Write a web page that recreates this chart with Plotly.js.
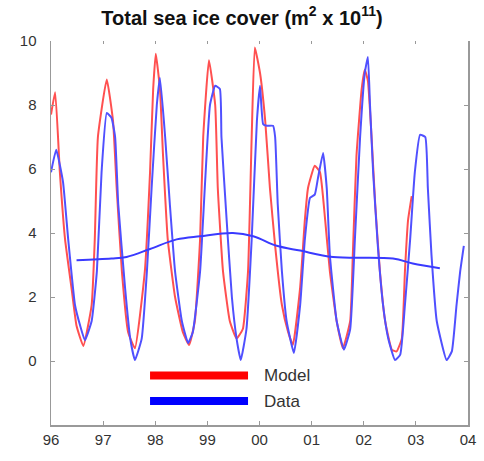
<!DOCTYPE html>
<html>
<head>
<meta charset="utf-8">
<script src="https://cdn.plot.ly/plotly-3.0.1.min.js"></script>
<style>html,body{margin:0;padding:0;background:#fff;}#chart{width:484px;height:461px;}</style>
</head>
<body>
<div id="chart"></div>
<script>
// Model (red) – total sea ice cover, m^2 x 10^11
const modelX = [1996.00,1996.08,1996.17,1996.27,1996.40,1996.49,1996.62,1996.78,1996.84,1996.90,
  1997.07,1997.19,1997.26,1997.36,1997.48,1997.61,1997.80,1997.90,1997.96,
  1998.01,1998.09,1998.15,1998.24,1998.38,1998.53,1998.65,1998.76,1998.86,1998.92,
  1999.03,1999.15,1999.20,1999.30,1999.43,1999.56,1999.68,1999.78,1999.85,1999.91,
  2000.01,2000.11,2000.20,2000.30,2000.43,2000.55,2000.64,2000.78,2000.87,2000.93,
  2001.06,2001.16,2001.26,2001.35,2001.48,2001.60,2001.74,2001.79,2001.86,2001.96,
  2002.02,2002.08,2002.15,2002.22,2002.31,2002.41,2002.54,2002.63,2002.73,2002.79,2002.85,2002.92];
const modelY = [7.7,8.4,5.9,3.8,2.2,1.1,0.47,1.75,3.8,7.0,
  8.8,7.5,5.4,2.8,0.9,0.4,2.8,5.9,8.5,
  9.6,8.5,6.4,3.8,2.0,0.9,0.5,1.25,3.8,7.0,
  9.4,8.0,5.4,2.8,1.25,0.7,1.0,2.8,7.0,9.8,
  9.0,7.5,5.4,3.6,1.75,0.9,0.5,2.3,4.4,5.4,
  6.1,5.9,4.4,2.8,1.25,0.4,1.25,3.3,6.4,8.5,
  9.1,8.75,7.0,4.9,2.8,1.25,0.35,0.3,0.7,2.8,4.4,5.15];

// Data (blue) – observed total sea ice cover
const dataX = [1996.00,1996.10,1996.23,1996.33,1996.46,1996.56,1996.65,1996.78,1996.88,1996.97,
  1997.07,1997.16,1997.23,1997.29,1997.42,1997.52,1997.61,1997.74,1997.84,1997.93,
  1998.03,1998.09,1998.19,1998.28,1998.38,1998.51,1998.63,1998.72,1998.86,1998.95,
  1999.05,1999.15,1999.24,1999.27,1999.37,1999.47,1999.56,1999.64,1999.75,1999.85,1999.95,
  2000.01,2000.07,2000.14,2000.26,2000.30,2000.35,2000.43,2000.52,2000.66,2000.78,2000.87,2000.97,
  2001.06,2001.12,2001.22,2001.29,2001.35,2001.48,2001.62,2001.74,2001.83,2001.93,
  2002.02,2002.08,2002.12,2002.18,2002.27,2002.37,2002.47,2002.60,2002.70,2002.79,2002.89,2002.98,
  2003.08,2003.18,2003.23,2003.30,2003.40,2003.59,2003.69,2003.78,2003.85,2003.92];
const dataY = [5.9,6.6,5.6,3.8,1.75,1.1,0.65,1.25,2.8,5.9,
  7.75,7.6,7.0,4.9,2.3,0.7,0.03,0.7,2.8,5.4,
  8.0,8.85,7.0,4.9,2.8,1.25,0.56,0.9,2.8,5.4,
  8.0,8.6,8.5,7.0,4.4,2.0,0.7,0.03,1.0,3.8,7.5,
  8.6,7.4,7.35,7.35,7.0,4.9,2.8,1.25,0.25,1.75,3.8,5.1,
  5.2,5.7,6.5,5.4,3.3,1.25,0.35,1.0,3.8,7.0,
  9.0,9.5,8.0,5.9,3.6,1.75,0.7,0.03,0.2,1.75,3.8,5.9,
  7.07,7.0,5.4,3.3,1.25,0.03,0.3,1.75,2.8,3.6];

// Data running mean (blue, smooth)
const trendX = [1996.49,1997.16,1997.45,1997.90,1998.41,1998.86,1999.49,1999.88,2000.33,2000.78,2001.41,2002.56,2002.94,2003.46];
const trendY = [3.15,3.2,3.25,3.5,3.8,3.9,4.0,3.9,3.6,3.45,3.25,3.2,3.05,2.9];

const xTickVals = [1996,1997,1998,1999,2000,2001,2002,2003,2004];
const xTickText = ['96','97','98','99','00','01','02','03','04'];
const yTickVals = [0,2,4,6,8,10];
const yTickText = ['0','2','4','6','8','10'];
const seriesNames = ['Model','Data'];

const FONT = 'Arial, "Liberation Sans", sans-serif';
const RED = '#ff5050', BLUE = '#5050ff';

const traces = [
  {x: modelX, y: modelY, type: 'scatter', mode: 'lines', name: seriesNames[0],
   line: {color: RED, width: 2, shape: 'spline', smoothing: 0.4}, showlegend: false},
  {x: dataX, y: dataY, type: 'scatter', mode: 'lines', name: seriesNames[1],
   line: {color: BLUE, width: 2, shape: 'spline', smoothing: 0.4}, showlegend: false},
  {x: trendX, y: trendY, type: 'scatter', mode: 'lines', name: 'Data mean',
   line: {color: '#3a3aff', width: 2, shape: 'spline', smoothing: 1}, showlegend: false},
  {x: [1996, 2004], y: [-5, -5], xaxis: 'x2', type: 'scatter', mode: 'lines',
   line: {width: 0}, hoverinfo: 'skip', showlegend: false}
];

const layout = {
  width: 484, height: 461,
  margin: {l: 51, r: 16, t: 41, b: 36},
  paper_bgcolor: '#fff', plot_bgcolor: '#fff',
  font: {family: FONT, color: '#333', size: 14},
  title: {text: 'Total sea ice cover (m<sup>2</sup> x 10<sup>11</sup>)',
          font: {family: FONT, size: 20, color: '#111', weight: 'bold'}, x: 0.5, xanchor: 'center', y: 0.962, yanchor: 'middle'},
  xaxis: {range: [1996, 2004], tickvals: xTickVals, ticktext: xTickText,
          showgrid: false, zeroline: false, showline: true, linecolor: '#999', linewidth: 1.5,
          ticks: 'inside', ticklen: 4, tickcolor: '#999', tickfont: {size: 15, color: '#333'}},
  xaxis2: {range: [1996, 2004], overlaying: 'x', side: 'top', tickvals: xTickVals,
           showticklabels: false, showgrid: false, zeroline: false, showline: false,
           ticks: 'inside', ticklen: 3, tickcolor: '#999'},
  yaxis: {range: [-2, 10], tickvals: yTickVals, ticktext: yTickText,
          showgrid: false, zeroline: false, showline: true, mirror: 'ticks', linecolor: '#999', linewidth: 1.5,
          ticks: 'inside', ticklen: 4, tickcolor: '#999', ticklabelstandoff: 10, tickfont: {size: 15, color: '#333'}},
  shapes: [
    {type: 'line', xref: 'x', yref: 'y', x0: 1997.90, x1: 1999.78, y0: -0.45, y1: -0.45, line: {color: '#ff0000', width: 8}},
    {type: 'line', xref: 'x', yref: 'y', x0: 1997.90, x1: 1999.78, y0: -1.25, y1: -1.25, line: {color: '#0000ff', width: 8}}
  ],
  annotations: [
    {xref: 'x', yref: 'y', x: 2000.05, y: -0.45, text: seriesNames[0], showarrow: false, xanchor: 'left', yanchor: 'middle',
     font: {family: FONT, size: 17, color: '#333'}},
    {xref: 'x', yref: 'y', x: 2000.05, y: -1.25, text: seriesNames[1], showarrow: false, xanchor: 'left', yanchor: 'middle',
     font: {family: FONT, size: 17, color: '#333'}}
  ]
};

Plotly.newPlot('chart', traces, layout, {staticPlot: true, displayModeBar: false});
</script>
</body>
</html>
